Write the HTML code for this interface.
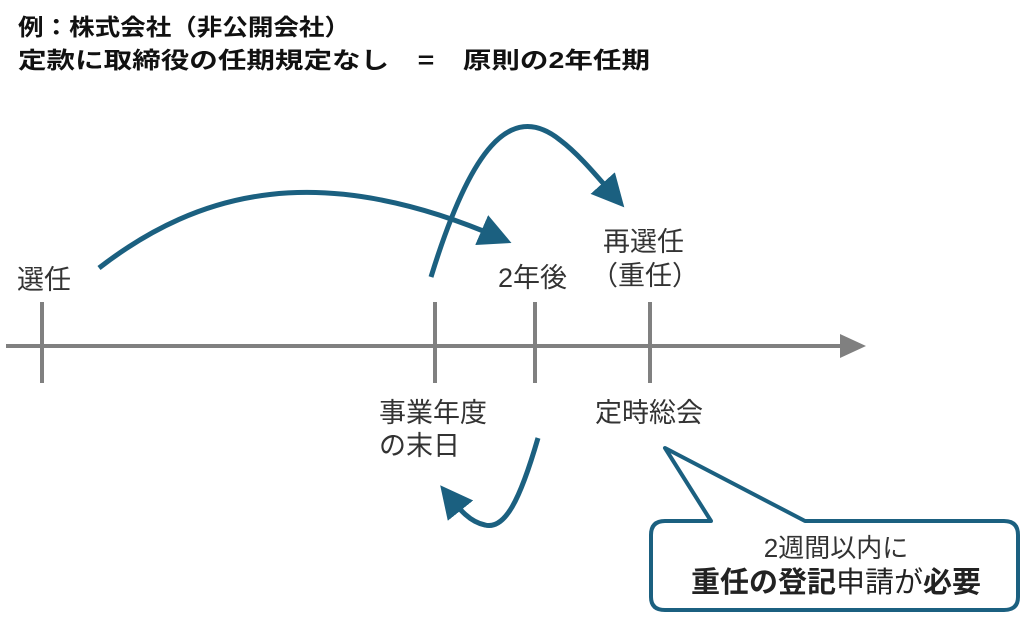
<!DOCTYPE html>
<html><head><meta charset="utf-8">
<style>
html,body{margin:0;padding:0;background:#fff;}
svg{display:block;}
text{font-family:"Liberation Sans","Noto Sans CJK JP",sans-serif;}
</style></head>
<body>
<svg width="1024" height="617" viewBox="0 0 1024 617" xmlns="http://www.w3.org/2000/svg">
<defs>
<marker id="ah" markerWidth="6.5" markerHeight="6.5" refX="4" refY="3.25" orient="auto" markerUnits="strokeWidth">
<path d="M0,0 L6.5,3.25 L0,6.5 Z" fill="#1b6080"/>
</marker>
</defs>
<text x="18" y="35" font-size="23" font-weight="bold" fill="#111" textLength="332" lengthAdjust="spacingAndGlyphs">例：株式会社（非公開会社）</text>
<text x="18" y="68" font-size="23" font-weight="bold" fill="#111" textLength="632" lengthAdjust="spacingAndGlyphs">定款に取締役の任期規定なし　=　原則の2年任期</text>

<line x1="6" y1="346" x2="845" y2="346" stroke="#808080" stroke-width="4"/>
<path d="M840,334 L866,346 L840,358 Z" fill="#808080"/>
<g stroke="#808080" stroke-width="4">
<line x1="42" y1="302" x2="42" y2="383"/>
<line x1="435" y1="302" x2="435" y2="383"/>
<line x1="535" y1="302" x2="535" y2="383"/>
<line x1="650" y1="302" x2="650" y2="383"/>
</g>

<g font-size="27" fill="#333">
<text x="17" y="289">選任</text>
<text x="498" y="287">2年後</text>
<text x="603" y="251">再選任</text>
<text x="591" y="285">（重任）</text>
<text x="379" y="422">事業年度</text>
<text x="379" y="455">の末日</text>
<text x="595" y="422">定時総会</text>
</g>

<g fill="none" stroke="#1b6080" stroke-width="5">
<path d="M99,268 C200,190 320,160 500,238" marker-end="url(#ah)"/>
<path d="M431,277 C470,150 510,100 560,140 C580,155 600,180 616,198" marker-end="url(#ah)"/>
<path d="M538,438 C520,500 505,530 485,525 C470,522 460,510 448,495" marker-end="url(#ah)"/>
</g>

<path d="M665,448 L805,521 L1004,521 Q1018,521 1018,535 L1018,597 Q1018,610 1004,610 L665,610 Q651,610 651,597 L651,535 Q651,521 665,521 L711,521 Z" fill="#fff" stroke="#1b6080" stroke-width="4" stroke-linejoin="round"/>
<text x="836" y="557" font-size="26" fill="#333" text-anchor="middle">2週間以内に</text>
<text x="836" y="592" font-size="29" fill="#222" text-anchor="middle"><tspan font-weight="bold">重任の登記</tspan>申請が<tspan font-weight="bold">必要</tspan></text>
</svg>
</body></html>
